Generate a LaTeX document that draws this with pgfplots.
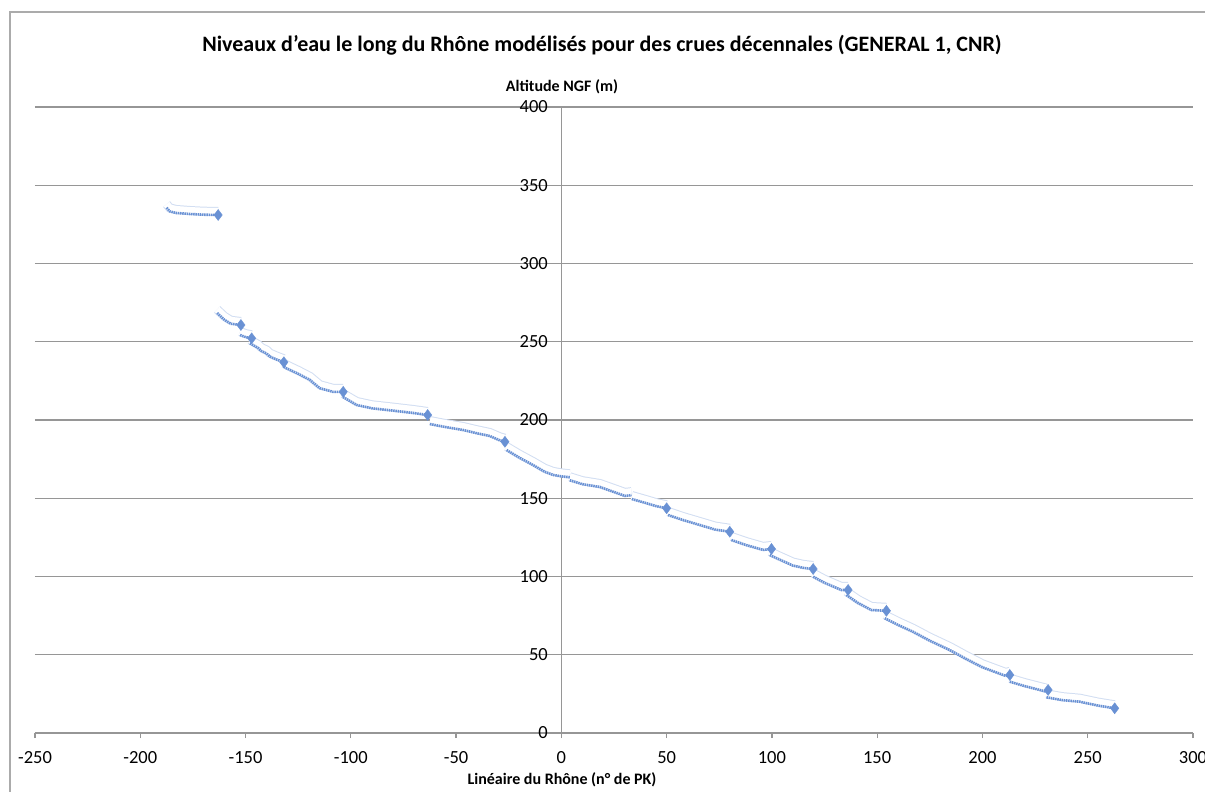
\documentclass[border=0pt]{standalone}
\usepackage{pgfplots}
\pgfplotsset{compat=1.18}
\usepackage{pgfplotstable}
\usepackage{fontspec}
\setmainfont{Carlito}
\definecolor{gridc}{RGB}{150,150,150}
\definecolor{ser}{RGB}{105,145,212}

\pgfplotstableread{
x y
-187.5 335.7
-186 333.3
-183 332.3
-176 331.6
-170 331.2
-163 331
nan nan
-163.5 268.4
-160 264
-157 261.5
-152.2 260.7
nan nan
-152.6 254.3
-150 253
-147.1 252.2
nan nan
-147.9 249
-144 246
-142.4 244
-140 242.5
-138.4 240.5
-135 238.5
-131.8 236.9
nan nan
-131.8 234
-130.5 233
-125 229.5
-119.4 225.6
-114.7 220.3
-108.4 218
-103.6 218
nan nan
-103.7 214.7
-97.2 209.6
-90 207.5
-80 206
-70.4 204.5
-63.5 203.2
nan nan
-62.4 197.4
-55 195.5
-46.6 193.6
-40 191.5
-34 189.8
-29.2 187
-26.8 186.1
nan nan
-26 180.8
-20 176
-13.4 171.2
-8 167
-3.9 164.9
0 164
4 163.4
nan nan
4 161.5
10 159
18.3 157.2
25 154
30.2 151.5
33.3 152
nan nan
33.5 149.5
40 147
45 145
50 143.6
nan nan
50.7 139.3
58 136
65.8 132.9
73 130
80 128.6
nan nan
80.8 123.3
88 120
95.8 117
99.8 117.6
nan nan
99 113.7
105 110
110 107
115 105.5
119.6 104.8
nan nan
119.6 99.9
125 96
133 91.4
136.2 91.4
nan nan
135.4 88.2
141 83
147.3 78.6
154.4 78.1
nan nan
153.6 73.3
160 69
167 64.7
175 59
184.5 53
192 47.5
200 42
206 39
211 36.5
213 37.1
nan nan
213 32.8
220 30
230.4 26.4
231.2 27.5
nan nan
230.4 22.8
238 21
246.2 20
255 17.5
262.8 15.8
}\rhone

\pgfplotstableread{
x y
-163 331
-152.2 260.7
-147.1 252.2
-131.8 236.9
-103.6 218
-63.5 203.2
-26.8 186.1
50 143.6
80 128.6
99.8 117.6
119.6 104.8
136.2 91.4
154.4 78.1
213 37.1
231.2 27.5
262.8 15.8
}\ends

\begin{document}
\begin{tikzpicture}
\path[use as bounding box] (0pt,0pt) rectangle (1205pt,-792pt);
\draw[gridc!80, line width=1.2pt] (10pt,-12pt) rectangle (1225pt,-812pt);
\node[font=\bfseries\fontsize{22}{24}\selectfont] at (602pt,-45pt) {Niveaux d'eau le long du Rhône modélisés pour des crues décennales (GENERAL 1, CNR)};
\begin{axis}[at={(35pt,-733pt)}, anchor=south west, scale only axis,
  width=1158pt, height=626pt,
  xmin=-250, xmax=300, ymin=0, ymax=400,
  axis x line=bottom, axis y line=center,
  hide obscured x ticks=false, hide obscured y ticks=false,
  axis line style={gridc, line width=1.3pt, -},
  every inner y axis line/.append style={-},
  every outer x axis line/.append style={-},
  xtick={-250,-200,...,300}, ytick={0,50,...,400},
  ymajorgrids, grid style={gridc, line width=1.3pt},
  tick align=outside, major tick length=5pt,
  tick style={gridc, line width=1.3pt},
  /pgf/number format/assume math mode=true,
  ticklabel style={font=\fontsize{18.5}{19}\selectfont},
  xticklabel style={yshift=-10pt},
  yticklabel style={anchor=east, xshift=-5pt},
  unbounded coords=jump,
  clip=false,
]
\addplot[ser!30, line width=9pt, yshift=3.5pt, forget plot] table[x=x,y=y] {\rhone};
\addplot[white, line width=7pt, yshift=3.5pt, forget plot] table[x=x,y=y] {\rhone};
\addplot[ser, line width=2.6pt, dash pattern=on 1.5pt off 0.7pt] table[x=x,y=y] {\rhone};
\addplot[only marks, mark=diamond*, mark size=5.5pt, color=ser, fill=ser] table[x=x,y=y] {\ends};
\end{axis}
\node[font=\bfseries\fontsize{16}{18}\selectfont] at (562pt,-87pt) {Altitude NGF (m)};
\node[font=\bfseries\fontsize{16}{18}\selectfont] at (562pt,-780pt) {Linéaire du Rhône (n° de PK)};
\end{tikzpicture}
\end{document}
